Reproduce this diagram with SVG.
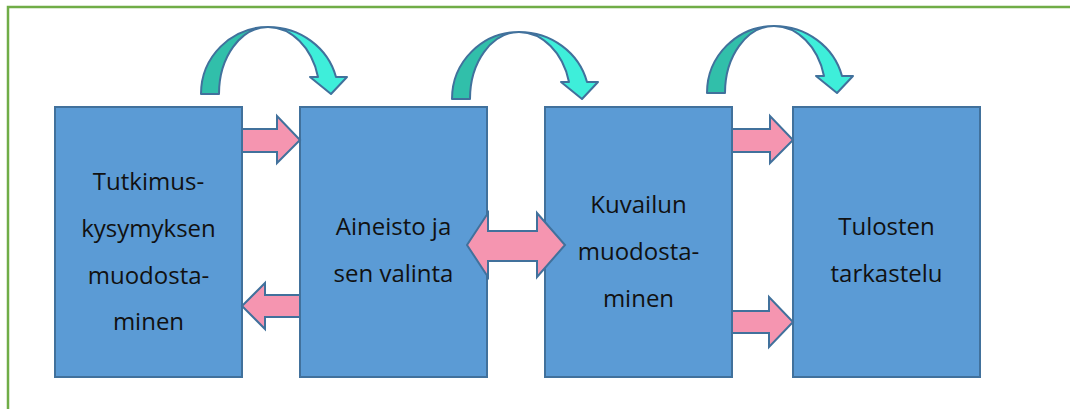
<svg xmlns="http://www.w3.org/2000/svg" width="1070" height="409" viewBox="0 0 1070 409">
  <defs>
    <style>
      .frame { fill: none; stroke: #70AD47; stroke-width: 2.5; }
      .box { fill: #5B9BD5; stroke: #41719C; stroke-width: 2; }
      .pink { fill: #F595B0; stroke: #41719C; stroke-width: 2; stroke-linejoin: miter; }
      .back { fill: #31BFAA; stroke: #41719C; stroke-width: 2; stroke-linejoin: round; }
      .front { fill: #3EEEDA; stroke: #41719C; stroke-width: 2; stroke-linejoin: round; }
      .label { font-family: "Open Sans", "Liberation Sans", sans-serif; font-size: 24px; fill: #111; text-anchor: middle; }
    </style>
    <!-- curved "next step" arrow, drawn once and reused above each gap -->
    <g id="curved">
      <path class="back" d="M201,94 A67,67 0 0 1 268,27 A49,67 0 0 0 219,94 Z"/>
      <path class="front" d="M268,27 A70,67 0 0 1 336,77 L347,77 L331,94 L310,77 L318,77 A52,67 0 0 0 268,27 Z"/>
    </g>
  </defs>

  <rect class="frame" x="8" y="7" width="1100" height="500"/>

  <g id="node-1">
    <rect class="box" x="55" y="107" width="187" height="270"/>
    <text class="label" x="148.5" y="190">Tutkimus-</text>
    <text class="label" x="148.5" y="237">kysymyksen</text>
    <text class="label" x="148.5" y="284">muodosta-</text>
    <text class="label" x="148.5" y="330">minen</text>
  </g>

  <g id="node-2">
    <rect class="box" x="300" y="107" width="187" height="270"/>
    <text class="label" x="393.5" y="235">Aineisto ja</text>
    <text class="label" x="393.5" y="282">sen valinta</text>
  </g>

  <g id="node-3">
    <rect class="box" x="545" y="107" width="187" height="270"/>
    <text class="label" x="638.5" y="213">Kuvailun</text>
    <text class="label" x="638.5" y="260">muodosta-</text>
    <text class="label" x="638.5" y="307">minen</text>
  </g>

  <g id="node-4">
    <rect class="box" x="793" y="107" width="187" height="270"/>
    <text class="label" x="886.5" y="235">Tulosten</text>
    <text class="label" x="886.5" y="282">tarkastelu</text>
  </g>

  <g id="connectors">
    <use href="#curved"/>
    <use href="#curved" transform="translate(251,5)"/>
    <use href="#curved" transform="translate(506,-1)"/>
    <!-- box 1 -> box 2 -->
    <path class="pink" d="M242,129 L277,129 L277,116 L300,140 L277,163 L277,152 L242,152 Z"/>
    <!-- box 2 -> box 1 -->
    <path class="pink" d="M300,295 L265,295 L265,283 L242,306 L265,329 L265,317 L300,317 Z"/>
    <!-- box 2 <-> box 3 -->
    <path class="pink" d="M467,245 L488,213 L488,231 L537,231 L537,213 L565,245 L537,277 L537,261 L488,261 L488,277 Z"/>
    <!-- box 3 -> box 4 -->
    <path class="pink" d="M732,129 L770,129 L770,116 L793,140 L770,163 L770,152 L732,152 Z"/>
    <path class="pink" d="M732,311 L769,311 L769,297 L793,322 L769,347 L769,333 L732,333 Z"/>
  </g>
</svg>
